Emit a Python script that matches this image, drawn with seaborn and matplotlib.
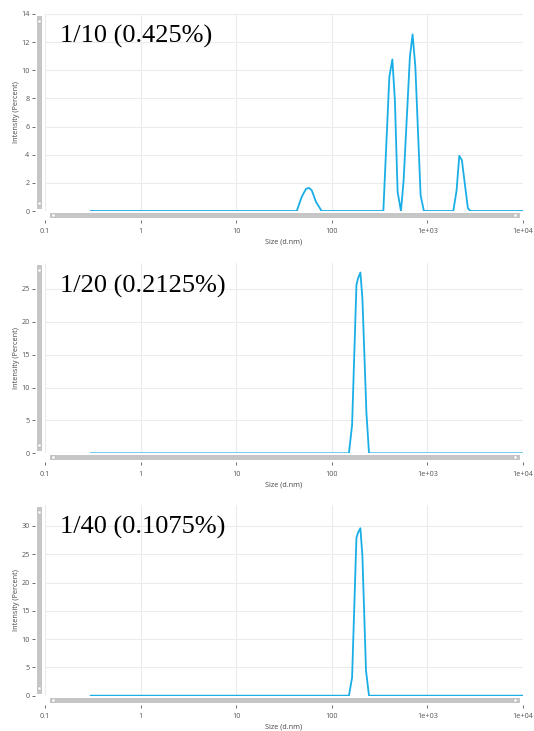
import matplotlib
matplotlib.use("Agg")
import matplotlib.pyplot as plt
import seaborn as sns
import numpy as np
import pandas as pd
from matplotlib.patches import Rectangle

# ---------------- data ----------------
labels = ["1/10 (0.425%)", "1/20 (0.2125%)", "1/40 (0.1075%)"]

size_1 = [0.3, 43.0, 48.4, 53.7, 57.8, 61.7, 68.4, 78.3, 346, 400, 430, 457, 488, 529,
          564, 656, 700, 748, 849, 919, 1866, 2020, 2155, 2294, 2651, 2826, 10000]
inten_1 = [0, 0, 1.0, 1.57, 1.64, 1.47, 0.64, 0, 0, 9.54, 10.77, 7.88, 1.35, 0,
           2.18, 10.96, 12.55, 10.25, 1.12, 0, 0, 1.47, 3.92, 3.61, 0.2, 0, 0]

size_2 = [0.3, 151, 163, 181, 188, 199, 209, 230, 245, 10000]
inten_2 = [0, 0, 4.3, 25.6, 26.6, 27.5, 23.6, 6.3, 0, 0]

size_3 = [0.3, 151, 163, 181, 188, 199, 209, 228, 245, 10000]
inten_3 = [0, 0, 3.2, 27.9, 28.8, 29.6, 24.7, 4.4, 0, 0]

y_ticks = [[0, 2, 4, 6, 8, 10, 12, 14], [0, 5, 10, 15, 20, 25], [0, 5, 10, 15, 20, 25, 30]]
y_max = [14, 28.9, 33.7]
x_ticks = [0.1, 1, 10, 100, 1000, 10000]
x_tick_labels = ["0.1", "1", "10", "100", "1e+03", "1e+04"]

# ---------------- figure ----------------
sns.set_theme(style="white")
plt.rcParams['font.family'] = ['Open Sans', 'DejaVu Sans']

W, H = 534, 731
fig = plt.figure(figsize=(W / 100, H / 100), dpi=100)

# plot areas in pixels: (left, top, right, bottom)
boxes = [(45, 14, 523, 211), (45, 263.3, 523, 453.3), (45, 505, 523, 695.7)]
series = [(size_1, inten_1), (size_2, inten_2), (size_3, inten_3)]
line_color = "#1aaee6"
grid_color = "#ececec"
tick_color = "#555555"
bar_color = "#c6c6c6"

def fx(px):
    return px / W

def fy(py):
    return 1 - py / H

for i, ((l, t, r, b), (xs, ys)) in enumerate(zip(boxes, series)):
    ax = fig.add_axes([fx(l), fy(b), (r - l) / W, (b - t) / H])
    df = pd.DataFrame({"size": xs, "intensity": ys})
    sns.lineplot(data=df, x="size", y="intensity", ax=ax, color=line_color,
                 linewidth=1.3, estimator=None, sort=False)
    ax.set_xscale("log")
    ax.set_xlim(0.1, 10000)
    ax.set_ylim(0, y_max[i])
    ax.set_xticks(x_ticks)
    ax.set_xticklabels(x_tick_labels)
    ax.minorticks_off()
    ax.set_yticks(y_ticks[i])
    ax.set_yticklabels([str(v) for v in y_ticks[i]])
    ax.grid(True, color=grid_color, linewidth=0.8)
    ax.set_axisbelow(True)
    for s in ["top", "right", "left", "bottom"]:
        ax.spines[s].set_visible(False)
    ax.spines["bottom"].set_position(("outward", 6.5))
    ax.spines["left"].set_position(("outward", 7.2))
    ax.tick_params(axis="both", which="major", labelsize=5.2, colors=tick_color,
                   length=2.5, width=0.6, direction="out")
    ax.tick_params(axis="x", pad=3.5, bottom=True)
    ax.tick_params(axis="y", pad=1.5, left=True)
    ax.set_xlabel("Size (d.nm)", fontsize=5.2, color="#444444", labelpad=2.5)
    ax.set_ylabel("Intensity (Percent)", fontsize=5.2, color="#444444", labelpad=1)
    # panel title
    fig.text(fx(60), fy(t + 29), labels[i], fontsize=19,
             family=["Liberation Serif", "DejaVu Serif"], color="black")

    # decorative scroll bars (part of the original screenshot)
    fig.patches.append(Rectangle((fx(37), fy(b - 2)), 5 / W, (b - t - 4) / H,
                                 transform=fig.transFigure, facecolor=bar_color,
                                 edgecolor="none", zorder=0))
    fig.patches.append(Rectangle((fx(38), fy(t + 9)), 3 / W, 3 / H,
                                 transform=fig.transFigure, facecolor="white",
                                 edgecolor="#aaaaaa", linewidth=0.3, zorder=1))
    fig.patches.append(Rectangle((fx(38), fy(b - 6)), 3 / W, 3 / H,
                                 transform=fig.transFigure, facecolor="white",
                                 edgecolor="#aaaaaa", linewidth=0.3, zorder=1))
    fig.patches.append(Rectangle((fx(50), fy(b + 7)), 470 / W, 5 / H,
                                 transform=fig.transFigure, facecolor=bar_color,
                                 edgecolor="none", zorder=0))
    fig.patches.append(Rectangle((fx(52), fy(b + 6)), 3 / W, 3 / H,
                                 transform=fig.transFigure, facecolor="white",
                                 edgecolor="#aaaaaa", linewidth=0.3, zorder=1))
    fig.patches.append(Rectangle((fx(514), fy(b + 6)), 3 / W, 3 / H,
                                 transform=fig.transFigure, facecolor="white",
                                 edgecolor="#aaaaaa", linewidth=0.3, zorder=1))

fig.savefig("out.png", dpi=100)
